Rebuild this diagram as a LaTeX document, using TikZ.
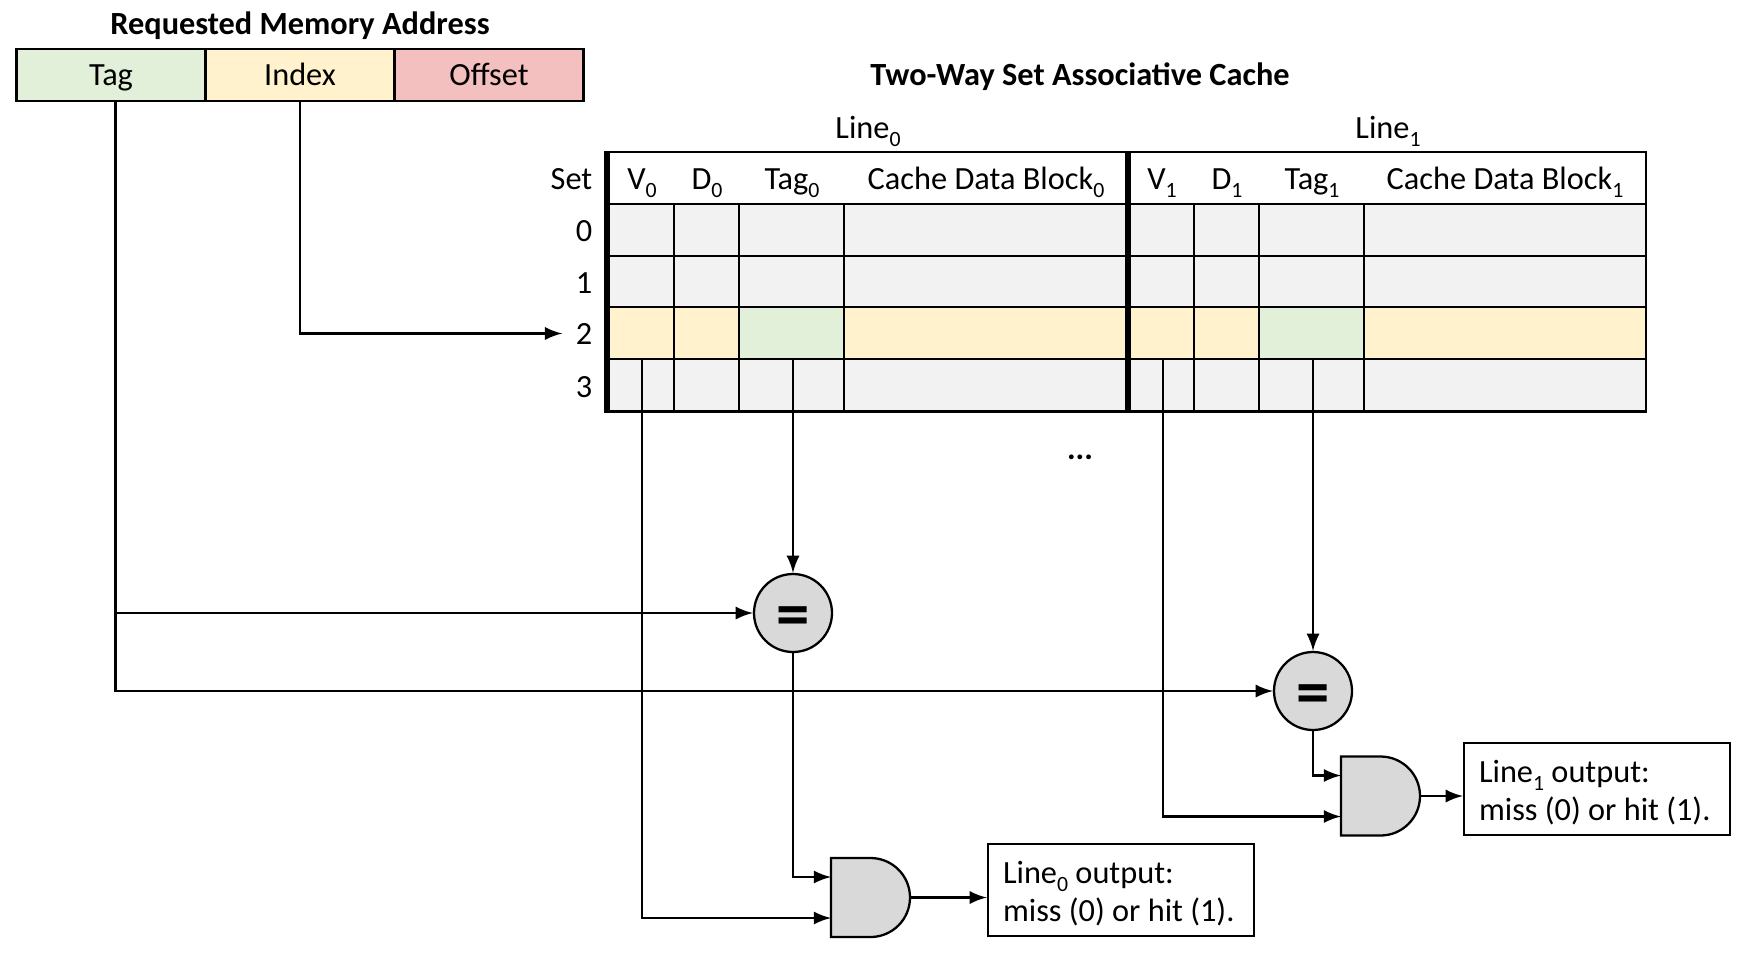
\documentclass[tikz,border=0pt]{standalone}
\usepackage{fontspec}
\setmainfont{Carlito}

\definecolor{tagfill}{HTML}{E2F0D9}
\definecolor{indexfill}{HTML}{FFF2CC}
\definecolor{offsetfill}{HTML}{F4BFBF}
\definecolor{cellfill}{HTML}{F2F2F2}
\definecolor{gatefill}{HTML}{D9D9D9}

\newcommand{\linesub}[1]{\raisebox{-0.55ex}{\fontsize{6.2}{6.2}\selectfont #1}}

\tikzset{
   thin line/.style={line width=0.65pt},
   thick line/.style={line width=1.5pt},
   wire/.style={line width=0.7pt,-latex},
   label text/.style={font=\fontsize{9.2}{11}\selectfont,anchor=base,inner sep=0pt},
   title text/.style={font=\fontsize{9.2}{11}\selectfont\bfseries,anchor=base,inner sep=0pt},
   set label/.style={font=\fontsize{9.2}{11}\selectfont,anchor=base east,inner xsep=0.13cm,inner ysep=0pt},
   field/.style={draw,line width=0.65pt,font=\fontsize{9.2}{11}\selectfont,minimum width=1.89cm,
      minimum height=0.52cm,text height=7pt,text depth=1.3pt,inner sep=0pt},
   compare/.style={circle,draw,line width=0.65pt,fill=gatefill,minimum size=0.78cm,inner sep=0pt,
      font=\fontsize{19}{19}\selectfont\bfseries,text height=14pt,text depth=0.6pt},
   gate/.style={minimum width=0.79cm,minimum height=0.79cm,inner sep=0pt,outer sep=0pt},
   gate body/.style={draw,line width=0.65pt,fill=gatefill},
   result/.style={draw,line width=0.65pt,font=\fontsize{9.2}{11}\selectfont,align=flush left,text width=2.36cm,
      minimum height=0.92cm,inner xsep=0.15cm,inner ysep=0pt,text height=8.3pt},
}

\begin{document}
\begin{tikzpicture}
   \useasboundingbox (0,0) rectangle (17.5,9.6);

   %% Adresse
   \node[title text] (addrtitle) at (3.00,9.26) {Requested Memory Address};
   \node[field,fill=tagfill] (tagfield) at (1.11,8.85) {Tag};
   \node[field,fill=indexfill] (indexfield) at (3.00,8.85) {Index};
   \node[field,fill=offsetfill] (offsetfield) at (4.89,8.85) {Offset};

   %% Markierung
   \draw[thin line,fill=cellfill] (6.07,7.04) rectangle (16.46,7.56);
   \draw[thin line,fill=cellfill] (6.07,6.53) rectangle (16.46,7.04);
   \draw[thin line,fill=indexfill] (6.07,6.01) rectangle (16.46,6.53);
   \draw[thin line,fill=cellfill] (6.07,5.485) rectangle (16.46,6.01);
   \draw[thin line,fill=tagfill] (7.39,6.01) rectangle (8.44,6.53);
   \draw[thin line,fill=tagfill] (12.59,6.01) rectangle (13.64,6.53);

   %% Tabelle
   \draw[thin line] (6.07,7.56) rectangle (16.46,8.08);
   \draw[thin line] (6.74,5.485) -- (6.74,7.56);
   \draw[thin line] (7.39,5.485) -- (7.39,7.56);
   \draw[thin line] (8.44,5.485) -- (8.44,7.56);
   \draw[thin line] (11.94,5.485) -- (11.94,7.56);
   \draw[thin line] (12.59,5.485) -- (12.59,7.56);
   \draw[thin line] (13.64,5.485) -- (13.64,7.56);
   \draw[thick line] (6.07,5.475) -- (6.07,8.09);
   \draw[thick line] (11.28,5.475) -- (11.28,8.09);

   %% Beschriftung
   \node[title text] (cachetitle) at (10.80,8.75) {Two-Way Set Associative Cache};
   \node[label text] (linezero) at (8.68,8.22) {Line\linesub{0}};
   \node[label text] (lineone) at (13.88,8.22) {Line\linesub{1}};
   \node[set label] (settitle) at (6.06,7.71) {Set};
   \node[set label] (setzero) at (6.06,7.19) {0};
   \node[set label] (setone) at (6.06,6.67) {1};
   \node[set label] (settwo) at (6.06,6.16) {2};
   \node[set label] (setthree) at (6.06,5.63) {3};
   \node[label text] (vzero) at (6.42,7.71) {V\linesub{0}};
   \node[label text] (dzero) at (7.07,7.71) {D\linesub{0}};
   \node[label text] (tagzero) at (7.92,7.71) {Tag\linesub{0}};
   \node[label text] (datazero) at (9.86,7.71) {Cache Data Block\linesub{0}};
   \node[label text] (vone) at (11.62,7.71) {V\linesub{1}};
   \node[label text] (done) at (12.27,7.71) {D\linesub{1}};
   \node[label text] (tagone) at (13.12,7.71) {Tag\linesub{1}};
   \node[label text] (dataone) at (15.05,7.71) {Cache Data Block\linesub{1}};
   \node[title text] (dots) at (10.80,5.01) {...};

   %% Vergleich und Gatter
   \node[compare] (eqzero) at (7.93,3.47) {=};
   \node[compare] (eqone) at (13.13,2.69) {=};
   \node[gate] (andzero) at (8.705,0.625) {};
   \node[gate] (andone) at (13.805,1.64) {};
   \draw[gate body] (andzero.south west) -- (andzero.south) arc (-90:90:0.395) -- (andzero.north west) -- cycle;
   \draw[gate body] (andone.south west) -- (andone.south) arc (-90:90:0.395) -- (andone.north west) -- cycle;
   \node[result] (outzero) at (11.21,0.70) {Line\linesub{0} output:\\miss (0) or hit (1).};
   \node[result] (outone) at (15.97,1.71) {Line\linesub{1} output:\\miss (0) or hit (1).};

   %% Anschluesse
   \coordinate (tagstart) at (1.155,8.59);
   \coordinate (tagbranch) at (tagstart |- eqzero.west);
   \coordinate (vzerostart) at (6.42,6.01);
   \coordinate (tagzerostart) at (7.93,6.01);
   \coordinate (vonestart) at (11.63,6.01);
   \coordinate (tagonestart) at (13.13,6.01);

   %% Leitungen
   \draw[wire] (indexfield.south) |- (settwo.west);
   \draw[wire] (tagbranch) -- (eqzero.west);
   \draw[wire] (tagstart) |- (eqone.west);
   \draw[wire] (tagzerostart) -- (eqzero.north);
   \draw[wire] (tagonestart) -- (eqone.north);
   \draw[wire] (eqzero.south) |- ([yshift=0.205cm]andzero.west);
   \draw[wire] (eqone.south) |- ([yshift=0.205cm]andone.west);
   \draw[wire] (vzerostart) |- ([yshift=-0.205cm]andzero.west);
   \draw[wire] (vonestart) |- ([yshift=-0.205cm]andone.west);
   \draw[wire] (andzero.east) -- (andzero.east -| outzero.west);
   \draw[wire] (andone.east) -- (andone.east -| outone.west);
\end{tikzpicture}
\end{document}
